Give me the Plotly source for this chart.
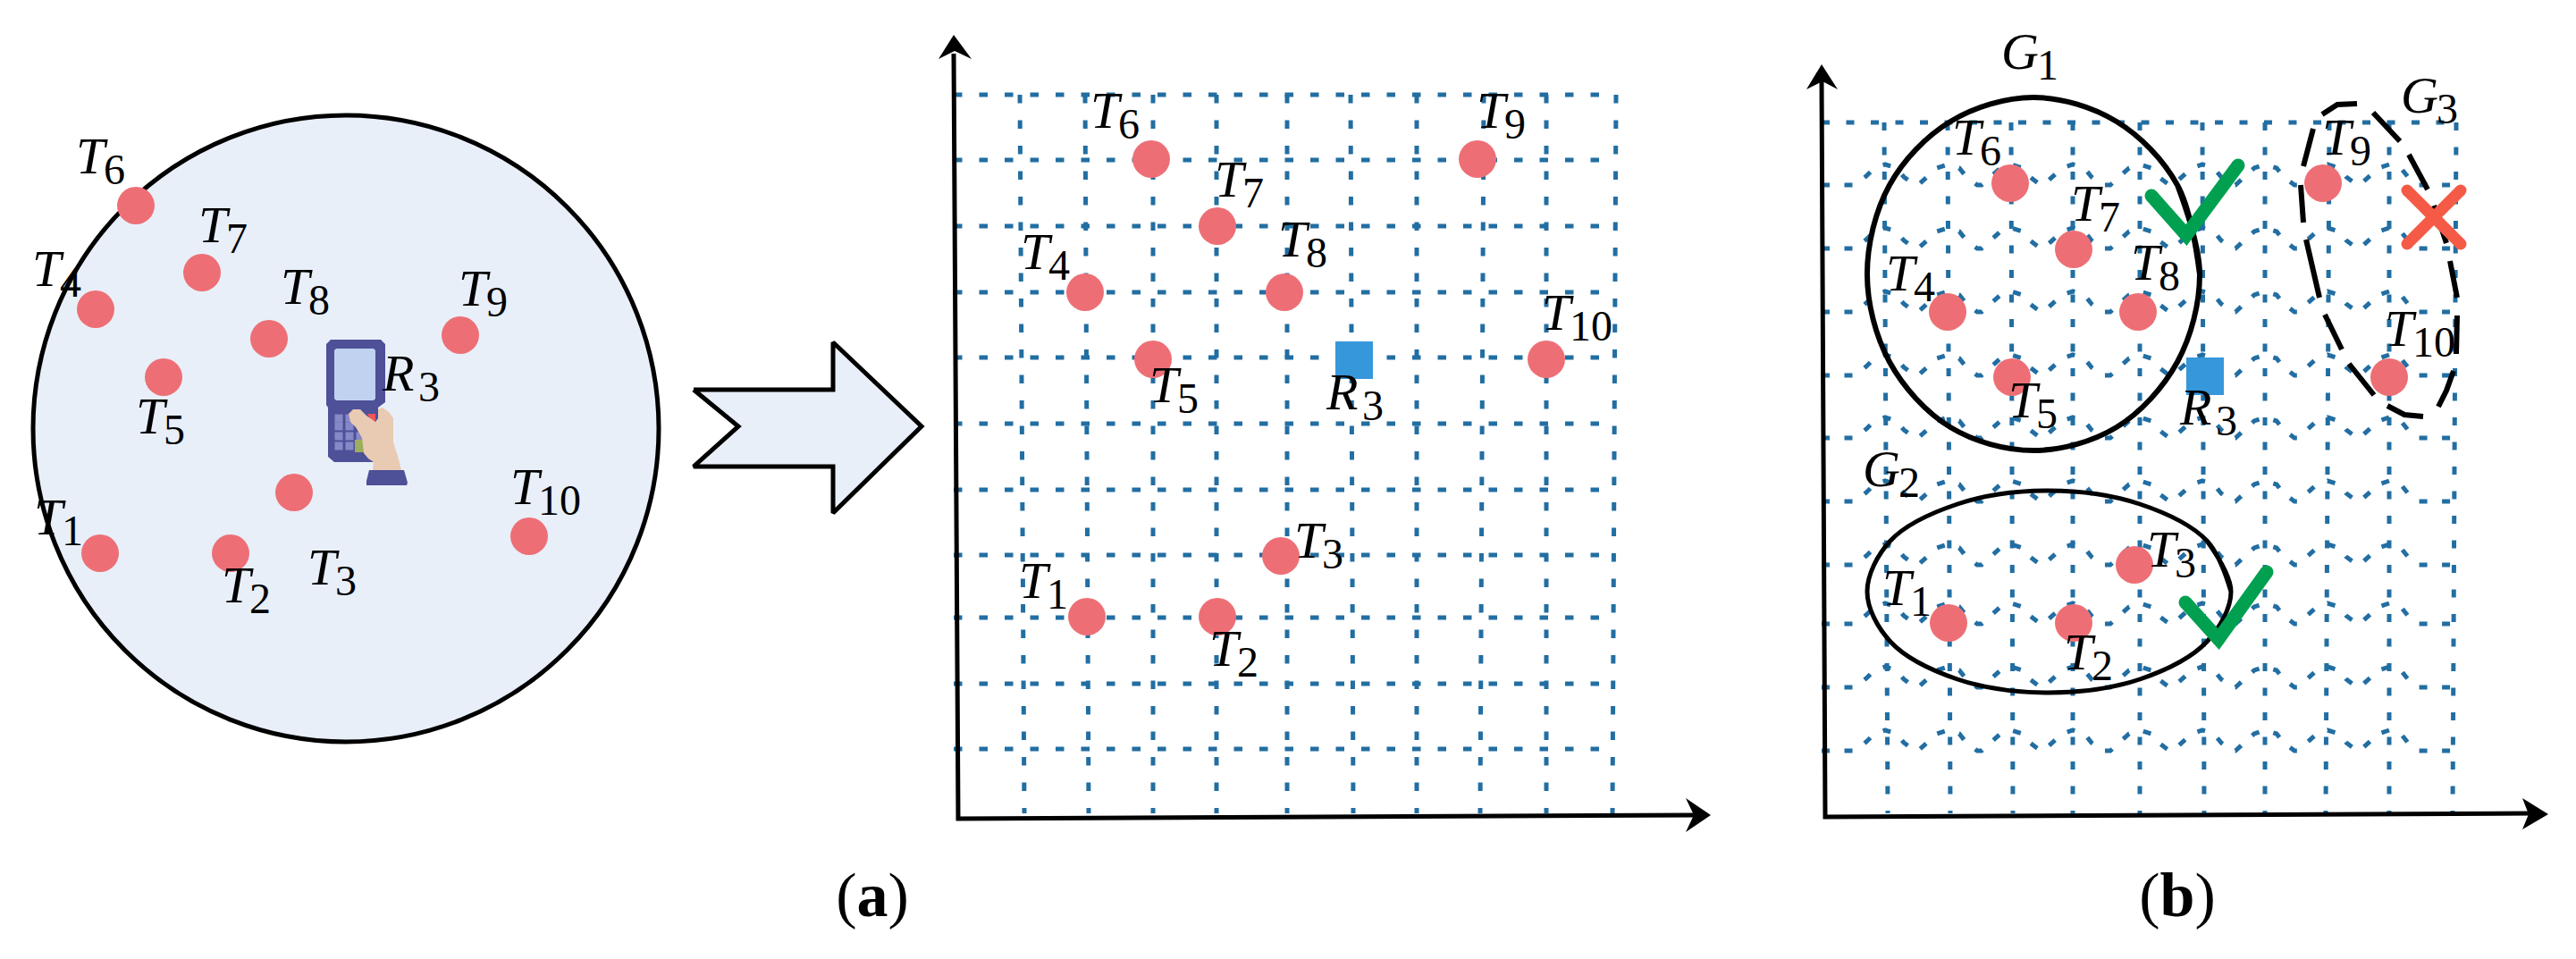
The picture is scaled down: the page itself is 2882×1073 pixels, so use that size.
import plotly.graph_objects as go

# Everything in page pixels, y pointing down.

RED = "#ED6F75"
BLUE = "#3797DB"
GRID = "#226EA2"
SERIF = "Liberation Serif"

# ── Left panel: the reader's coverage circle ─────────────────
CIRCLE_X = [37, 737]
CIRCLE_Y = [129, 830]

ROOM_DOT_X = [112, 258, 329, 107, 183, 152, 226, 301, 515, 592]
ROOM_DOT_Y = [619, 619, 551, 346, 422, 230, 305, 379, 375, 600]

ROOM_LABELS = ["T1", "T2", "T3", "T4", "T5", "T6", "T7", "T8", "T9", "T10", "R3"]
ROOM_LABEL_X = [38, 248, 344, 36, 152, 85, 222, 314, 513, 571, 428]
ROOM_LABEL_Y = [602, 678, 658, 324, 489, 198, 275, 344, 346, 568, 441]

BLOCK_ARROW_X = [776, 932, 932, 1031, 932, 932, 776, 826, 776]
BLOCK_ARROW_Y = [436, 436, 383, 477, 574, 522, 522, 477, 436]

# handheld reader
BODY_X = [365, 370, 426, 431, 431, 423, 423, 374, 367, 367, 365]
BODY_Y = [385, 380, 380, 385, 450, 456, 517, 517, 511, 456, 453]
SCREEN_X = [374, 376, 418, 420, 420, 418, 376, 374]
SCREEN_Y = [392, 390, 390, 392, 446, 448, 448, 446]
KEY_X = [379, 391, 379, 391, 379, 391, 403, 379, 391]
KEY_Y = [468, 468, 477, 477, 488, 488, 488, 499, 499]
RED_KEY_X = [411, 420, 420, 415]
RED_KEY_Y = [463, 463, 471, 471]
GREEN_KEY_X = [397, 407, 407, 397]
GREEN_KEY_Y = [492, 492, 506, 506]
HAND_X = [423, 428, 435, 440, 440, 445, 449, 417, 418, 412, 407, 405, 398, 392, 390, 395, 403, 410, 420, 423]
HAND_Y = [458, 456, 461, 468, 495, 510, 526, 526, 517, 513, 507, 490, 478, 472, 463, 458, 458, 465, 472, 468]
CUFF_X = [413, 452, 456, 455, 410, 410]
CUFF_Y = [526, 526, 540, 543, 543, 538]

# ── Panel (a) ────────────────────────────────────────────────
A_ROW_Y = [106, 179, 253, 327, 400, 474, 548, 621, 691, 765, 838]
A_ROW_X0 = 1067
A_ROW_X1 = 1808
A_COL_TOP_X = [1141, 1214, 1290, 1361, 1440, 1511, 1585, 1660, 1730, 1808]
A_COL_BOT_X = [1146, 1218, 1290, 1361, 1440, 1514, 1585, 1656, 1730, 1804]
A_COL_Y = [106, 910]

A_AXIS_X = [1067, 1072, 1898]
A_AXIS_Y = [60, 916, 912]
A_HEAD_Y_X = [1067, 1087, 1068, 1050]
A_HEAD_Y_Y = [39, 66, 57, 66]
A_HEAD_X_X = [1914, 1886, 1895, 1886]
A_HEAD_X_Y = [912, 931, 912, 893]

A_DOT_X = [1216, 1362, 1433, 1214, 1290, 1288, 1362, 1437, 1653, 1730]
A_DOT_Y = [690, 690, 622, 327, 402, 178, 253, 327, 178, 402]
A_READER = ([1515], [403])

A_LABELS = ROOM_LABELS
A_LABEL_X = [1140, 1353, 1448, 1142, 1286, 1220, 1359, 1430, 1652, 1725, 1484]
A_LABEL_Y = [673, 749, 628, 305, 454, 147, 224, 291, 147, 373, 462]

# ── Panel (b) ────────────────────────────────────────────────
B_TOP_ROW_Y = 137
B_WAVE_ROW_Y = [207, 278, 349, 420, 490, 561, 632, 698, 769, 840]
B_ROW_X0 = 2038
B_ROW_X1 = 2748
B_COL_TOP_X = [2108, 2179, 2250, 2319, 2394, 2464, 2534, 2606, 2673, 2748]
B_COL_BOT_X = [2112, 2182, 2252, 2319, 2394, 2466, 2534, 2602, 2673, 2744]
B_COL_Y = [137, 910]
# every row humps up over the vertical lines
B_BUMP_X = [2109, 2179, 2250, 2319, 2394, 2464, 2534, 2604, 2673]
BUMP_DX = [-33, -21, -12, 0, 13, 21, 33]
BUMP_DY = [0, -10, -19, -23, -19, -9, 0]

B_AXIS_X = [2038, 2042, 2835]
B_AXIS_Y = [90, 914, 910]
B_HEAD_Y_X = [2038, 2056, 2039, 2021]
B_HEAD_Y_Y = [72, 100, 91, 100]
B_HEAD_X_X = [2851, 2822, 2829, 2822]
B_HEAD_X_Y = [911, 928, 911, 893]

B_DOT_X = [2180, 2320, 2388, 2179, 2251, 2249, 2320, 2392, 2599, 2673]
B_DOT_Y = [697, 697, 632, 349, 422, 205, 279, 349, 205, 422]
B_READER = ([2467], [421])

B_LABELS = ROOM_LABELS + ["G1", "G2", "G3"]
B_LABEL_X = [2106, 2309, 2402, 2110, 2247, 2184, 2317, 2384, 2598, 2668, 2439, 2239, 2084, 2686]
B_LABEL_Y = [681, 753, 638, 329, 471, 177, 251, 317, 177, 391, 479, 81, 548, 130]

G1_X = [2461, 2436, 2368, 2275, 2182, 2114, 2089, 2114, 2182, 2275, 2368, 2436, 2461, 2436]
G1_Y = [307, 207, 136, 109, 136, 207, 307, 405, 478, 504, 478, 405, 307, 207]
G2_X = [2496, 2469, 2394, 2292, 2190, 2115, 2089, 2115, 2190, 2292, 2394, 2469, 2496, 2469]
G2_Y = [662, 605, 564, 549, 564, 605, 662, 718, 760, 775, 760, 718, 662, 605]
# dashed outline, one stroke at a time
G3_X = [2598, 2615, 2637, None, 2655, 2685, None, 2695, 2716, None, 2723, 2737, None, 2741, 2749, None,
        2749, 2748, None, 2745, 2737, 2728, None, 2711, 2690, 2671, None, 2656, 2628, None, 2620, 2601, None,
        2595, 2580, None, 2577, 2574, None, 2577, 2588]
G3_Y = [128, 117, 116, None, 126, 158, None, 173, 212, None, 230, 272, None, 292, 333, None,
        353, 396, None, 415, 437, 455, None, 466, 464, 454, None, 442, 407, None, 391, 352, None,
        333, 268, None, 249, 207, None, 186, 144]

CHECK1_X = [2407, 2446, 2504]
CHECK1_Y = [219, 263, 185]
CHECK2_X = [2445, 2482, 2536]
CHECK2_Y = [674, 715, 640]
CROSS1_X = [2693, 2753]
CROSS1_Y = [213, 273]
CROSS2_X = [2753, 2693]
CROSS2_Y = [213, 273]

CAPTIONS = ["(<b>a</b>)", "(<b>b</b>)"]
CAPTION_X = [976, 2436]
CAPTION_Y = [1007, 1007]

LETTER_SIZE = 58
DIGIT_SIZE = 48
BASELINE_SHIFT = 19  # text traces are centred on y, the arrays hold the baseline
DIGIT_DROP = 15
LETTER_ADVANCE = {"T": 31, "R": 40, "G": 40}


def add_line(fig, xs, ys, color="black", width=5, dash=None, shape="linear", caps=False):
    fig.add_trace(go.Scatter(
        x=xs, y=ys,
        mode="lines+markers" if caps else "lines",
        line=dict(color=color, width=width, dash=dash, shape=shape, smoothing=1.0),
        marker=dict(color=color, size=width),
        hoverinfo="skip",
    ))


def add_fill(fig, xs, ys, color, line_color=None, line_width=0):
    fig.add_trace(go.Scatter(
        x=xs, y=ys,
        mode="lines",
        fill="toself",
        fillcolor=color,
        line=dict(color=line_color or color, width=line_width),
        hoverinfo="skip",
    ))


def add_dots(fig, xs, ys, color=RED, symbol="circle", size=42):
    fig.add_trace(go.Scatter(
        x=xs, y=ys,
        mode="markers",
        marker=dict(color=color, size=size, symbol=symbol),
        hoverinfo="skip",
    ))


def add_labels(fig, names, xs, ys):
    # letter and subscript sit apart in the picture, so they are placed apart
    fig.add_trace(go.Scatter(
        x=xs,
        y=[y - BASELINE_SHIFT for y in ys],
        mode="text",
        text=[n[0] for n in names],
        textposition="middle right",
        textfont=dict(family=SERIF, size=LETTER_SIZE, style="italic", color="black"),
        hoverinfo="skip",
    ))
    fig.add_trace(go.Scatter(
        x=[x + LETTER_ADVANCE[n[0]] for n, x in zip(names, xs)],
        y=[y - BASELINE_SHIFT + DIGIT_DROP for y in ys],
        mode="text",
        text=[n[1:] for n in names],
        textposition="middle right",
        textfont=dict(family=SERIF, size=DIGIT_SIZE, color="black"),
        hoverinfo="skip",
    ))


def add_grid(fig, row_ys, x0, x1, col_top, col_bot, col_y, dash):
    for y in row_ys:
        add_line(fig, [x0, x1], [y, y], color=GRID, dash=dash)
    for top, bot in zip(col_top, col_bot):
        add_line(fig, [top, bot], col_y, color=GRID, dash=dash)


fig = go.Figure()

# ── Left panel ───────────────────────────────────────────────
fig.add_shape(
    type="circle", xref="x", yref="y",
    x0=CIRCLE_X[0], x1=CIRCLE_X[1], y0=CIRCLE_Y[0], y1=CIRCLE_Y[1],
    fillcolor="#E8EFF9", line=dict(color="black", width=5), layer="below",
)
add_dots(fig, ROOM_DOT_X, ROOM_DOT_Y)
add_fill(fig, BODY_X, BODY_Y, "#4E5098")
add_fill(fig, SCREEN_X, SCREEN_Y, "#C1D1F0")
add_dots(fig, KEY_X, KEY_Y, color="#8689C8", symbol="square", size=9)
add_fill(fig, RED_KEY_X, RED_KEY_Y, "#F0565A")
add_fill(fig, GREEN_KEY_X, GREEN_KEY_Y, "#9BAE5C")
add_fill(fig, HAND_X, HAND_Y, "#E9CAB2")
add_fill(fig, CUFF_X, CUFF_Y, "#4E5098")
add_labels(fig, ROOM_LABELS, ROOM_LABEL_X, ROOM_LABEL_Y)

add_fill(fig, BLOCK_ARROW_X, BLOCK_ARROW_Y, "#E8EFF9", line_color="black", line_width=5)

# ── Panel (a) ────────────────────────────────────────────────
add_grid(fig, A_ROW_Y, A_ROW_X0, A_ROW_X1, A_COL_TOP_X, A_COL_BOT_X, A_COL_Y, "9.5px,19px")
add_line(fig, A_AXIS_X, A_AXIS_Y)
add_fill(fig, A_HEAD_Y_X, A_HEAD_Y_Y, "black")
add_fill(fig, A_HEAD_X_X, A_HEAD_X_Y, "black")
add_dots(fig, A_DOT_X, A_DOT_Y)
add_dots(fig, *A_READER, color=BLUE, symbol="square")
add_labels(fig, A_LABELS, A_LABEL_X, A_LABEL_Y)

# ── Panel (b) ────────────────────────────────────────────────
add_grid(fig, [B_TOP_ROW_Y], B_ROW_X0, B_ROW_X1, B_COL_TOP_X, B_COL_BOT_X, B_COL_Y, "9px,18.5px")
for row_y in B_WAVE_ROW_Y:
    xs, ys = [B_ROW_X0], [row_y]
    for bump in B_BUMP_X:
        xs += [bump + dx for dx in BUMP_DX]
        ys += [row_y + dy for dy in BUMP_DY]
    add_line(fig, xs + [B_ROW_X1], ys + [row_y], color=GRID, dash="9px,16.5px")
add_line(fig, B_AXIS_X, B_AXIS_Y)
add_fill(fig, B_HEAD_Y_X, B_HEAD_Y_Y, "black")
add_fill(fig, B_HEAD_X_X, B_HEAD_X_Y, "black")

add_line(fig, G1_X, G1_Y, width=6, shape="spline")
add_line(fig, G2_X, G2_Y, width=5, shape="spline")
add_line(fig, G3_X, G3_Y, width=6)
add_dots(fig, B_DOT_X, B_DOT_Y)
add_dots(fig, *B_READER, color=BLUE, symbol="square")
add_line(fig, CHECK1_X, CHECK1_Y, color="#00A050", width=15, caps=True)
add_line(fig, CHECK2_X, CHECK2_Y, color="#00A050", width=15, caps=True)
add_line(fig, CROSS1_X, CROSS1_Y, color="#F55A46", width=13, caps=True)
add_line(fig, CROSS2_X, CROSS2_Y, color="#F55A46", width=13, caps=True)
add_labels(fig, B_LABELS, B_LABEL_X, B_LABEL_Y)

# ── Captions ─────────────────────────────────────────────────
fig.add_trace(go.Scatter(
    x=CAPTION_X, y=CAPTION_Y,
    mode="text",
    text=CAPTIONS,
    textposition="middle center",
    textfont=dict(family=SERIF, size=70, color="black"),
    hoverinfo="skip",
))

fig.update_xaxes(range=[0, 2882], visible=False, fixedrange=True)
fig.update_yaxes(range=[1073, 0], visible=False, fixedrange=True)
fig.update_layout(
    width=2882,
    height=1073,
    margin=dict(l=0, r=0, t=0, b=0),
    paper_bgcolor="white",
    plot_bgcolor="white",
    showlegend=False,
)

fig.write_html("out.html", config=dict(displayModeBar=False), post_script="document.body.style.margin='0';")
